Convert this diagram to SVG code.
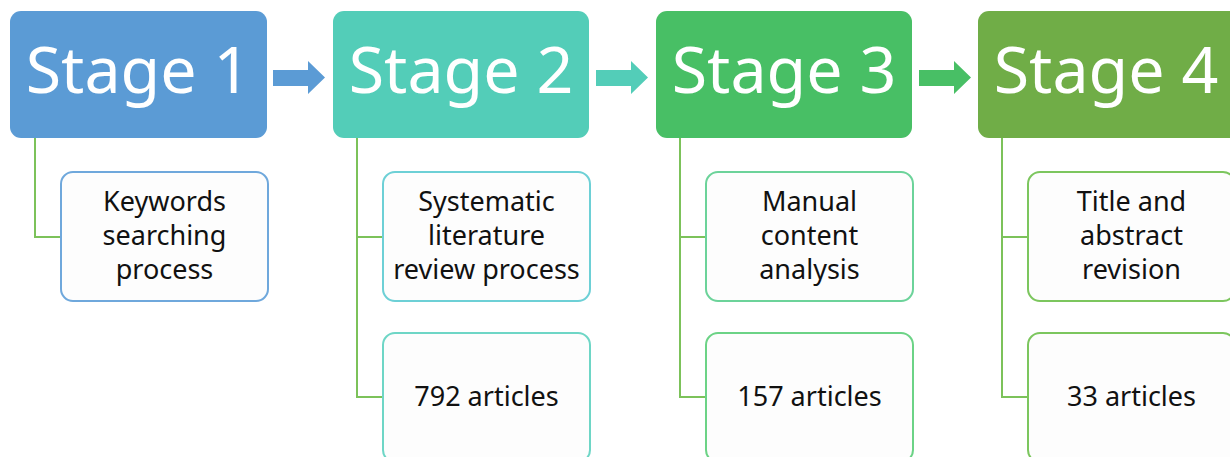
<svg xmlns="http://www.w3.org/2000/svg" width="1230" height="457" viewBox="0 0 1230 457">
<style>
.stage{font-family:"Noto Sans","Open Sans",sans-serif;font-size:64.5px;fill:#fff;text-anchor:middle}
.sub{font-family:"Noto Sans","Open Sans",sans-serif;font-size:27px;fill:#111;text-anchor:middle}
.conn{fill:none;stroke:#7CC25A;stroke-width:2}
.child{fill:#FDFDFD;stroke-width:2}
</style>
<rect width="1230" height="457" fill="#fff"/>
<g id="connectors">
<path class="conn" d="M35,138 V237 H61"/>
<path class="conn" d="M357,138 V397 H383 M357,237 H383"/>
<path class="conn" d="M680,138 V397 H706 M680,237 H706"/>
<path class="conn" d="M1002,138 V397 H1028 M1002,237 H1028"/>
<path d="M273,70 H308 V61 L325,77.5 L308,94 V86 H273 Z" fill="#5B9BD5"/>
<path d="M596,70 H631 V61 L648,77.5 L631,94 V86 H596 Z" fill="#53CDB8"/>
<path d="M919,70 H954 V61 L971,77.5 L954,94 V86 H919 Z" fill="#48BF65"/>
</g>
<g id="stage1">
<rect x="10" y="11" width="257" height="127" rx="11" fill="#5B9BD5"/>
<text class="stage" x="138" y="93">Stage 1</text>
</g>
<g id="stage2">
<rect x="333" y="11" width="256" height="127" rx="11" fill="#53CDB8"/>
<text class="stage" x="461" y="93">Stage 2</text>
</g>
<g id="stage3">
<rect x="656" y="11" width="256" height="127" rx="11" fill="#48BF65"/>
<text class="stage" x="784" y="93">Stage 3</text>
</g>
<g id="stage4">
<rect x="978" y="11" width="262" height="127" rx="11" fill="#70AD47"/>
<text class="stage" x="1106" y="93">Stage 4</text>
</g>
<g id="s1-keywords">
<rect class="child" x="61" y="172" width="207" height="129" rx="12" stroke="#6FA8DC"/>
<text class="sub" x="164.5" y="211">Keywords</text>
<text class="sub" x="164.5" y="245">searching</text>
<text class="sub" x="164.5" y="279">process</text>
</g>
<g id="s2-review">
<rect class="child" x="383" y="172" width="207" height="129" rx="12" stroke="#6DD0D6"/>
<text class="sub" x="486.5" y="211">Systematic</text>
<text class="sub" x="486.5" y="245">literature</text>
<text class="sub" x="486.5" y="279">review process</text>
</g>
<g id="s2-count">
<rect class="child" x="383" y="333" width="207" height="129" rx="12" stroke="#6ED6C6"/>
<text class="sub" x="486.5" y="406">792 articles</text>
</g>
<g id="s3-analysis">
<rect class="child" x="706" y="172" width="207" height="129" rx="12" stroke="#6CD39A"/>
<text class="sub" x="809.5" y="211">Manual</text>
<text class="sub" x="809.5" y="245">content</text>
<text class="sub" x="809.5" y="279">analysis</text>
</g>
<g id="s3-count">
<rect class="child" x="706" y="333" width="207" height="129" rx="12" stroke="#6CD386"/>
<text class="sub" x="809.5" y="406">157 articles</text>
</g>
<g id="s4-revision">
<rect class="child" x="1028" y="172" width="207" height="129" rx="12" stroke="#7CC65E"/>
<text class="sub" x="1131.5" y="211">Title and</text>
<text class="sub" x="1131.5" y="245">abstract</text>
<text class="sub" x="1131.5" y="279">revision</text>
</g>
<g id="s4-count">
<rect class="child" x="1028" y="333" width="207" height="129" rx="12" stroke="#7CC65E"/>
<text class="sub" x="1131.5" y="406">33 articles</text>
</g>
</svg>
